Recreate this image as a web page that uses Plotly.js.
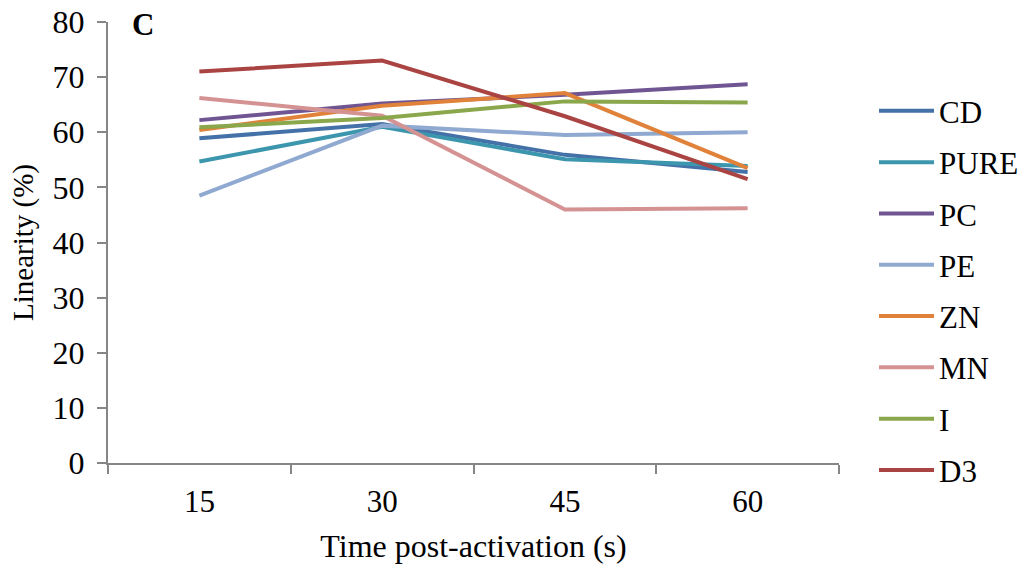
<!DOCTYPE html>
<html>
<head>
<meta charset="utf-8">
<script src="https://cdn.plot.ly/plotly-3.0.1.min.js"></script>
<style>html,body{margin:0;padding:0;background:#fff;}#chart{width:1025px;height:570px;}</style>
</head>
<body>
<div id="chart"></div>
<script>
var times = ["15", "30", "45", "60"];
var seriesNames = ["CD", "PURE", "PC", "PE", "ZN", "MN", "I", "D3"];
var CD   = [58.9, 61.5, 55.9, 52.8];
var PURE = [54.7, 61.0, 55.1, 53.9];
var PC   = [62.2, 65.2, 66.8, 68.7];
var PE   = [48.5, 61.2, 59.5, 60.0];
var ZN   = [60.4, 64.8, 67.1, 53.5];
var MN   = [66.2, 63.0, 46.0, 46.2];
var I    = [60.9, 62.6, 65.6, 65.4];
var D3   = [71.0, 73.0, 62.9, 51.5];
var seriesValues = [CD, PURE, PC, PE, ZN, MN, I, D3];
var colors = ["#4472A8", "#3C96AE", "#6F5592", "#8FA9D0", "#E0823A", "#D49392", "#8AA74C", "#AA4442"];

var traces = seriesNames.map(function (n, i) {
  return {
    x: times,
    y: seriesValues[i],
    name: n,
    legendgroup: n,
    type: "scatter",
    mode: "lines",
    line: {color: colors[i], width: 4}
  };
});

var serif = "Liberation Serif, Times New Roman, serif";
var layout = {
  width: 1025,
  height: 570,
  margin: {l: 108, r: 186, t: 22, b: 107},
  paper_bgcolor: "#fff",
  plot_bgcolor: "#fff",
  font: {family: serif, color: "#000", size: 31},
  showlegend: true,
  legend: {
    xref: "container",
    x: 0.8527, y: 0.859, xanchor: "left", yanchor: "top",
    font: {family: serif, size: 31, color: "#000"},
    tracegroupgap: 8,
    itemwidth: 55,
    bgcolor: "rgba(0,0,0,0)"
  },
  xaxis: {
    type: "category",
    range: [-0.5, 3.5],
    tickson: "boundaries",
    ticks: "outside",
    ticklen: 9,
    tickwidth: 2,
    tickcolor: "#868686",
    showline: true,
    linecolor: "#868686",
    linewidth: 2,
    showgrid: false,
    zeroline: false,
    ticklabelstandoff: 10,
    tickfont: {family: serif, size: 31, color: "#000"},
    title: {text: "Time post-activation (s)", font: {family: serif, size: 32, color: "#000"}, standoff: 16}
  },
  yaxis: {
    range: [0, 80],
    dtick: 10,
    ticks: "outside",
    ticklen: 9,
    tickwidth: 2,
    tickcolor: "#868686",
    showline: true,
    linecolor: "#868686",
    linewidth: 2,
    showgrid: false,
    zeroline: false,
    ticklabelstandoff: 6,
    tickfont: {family: serif, size: 32, color: "#000"},
    title: {text: "Linearity (%)", font: {family: serif, size: 29, color: "#000"}, standoff: 10}
  },
  annotations: [{
    text: "<b>C</b>", xref: "paper", yref: "paper", x: 0.03, y: 0.995,
    xanchor: "left", yanchor: "middle", showarrow: false,
    font: {family: serif, size: 31, color: "#000"}
  }]
};

Plotly.newPlot("chart", traces, layout, {displayModeBar: false, staticPlot: true});
</script>
</body>
</html>
